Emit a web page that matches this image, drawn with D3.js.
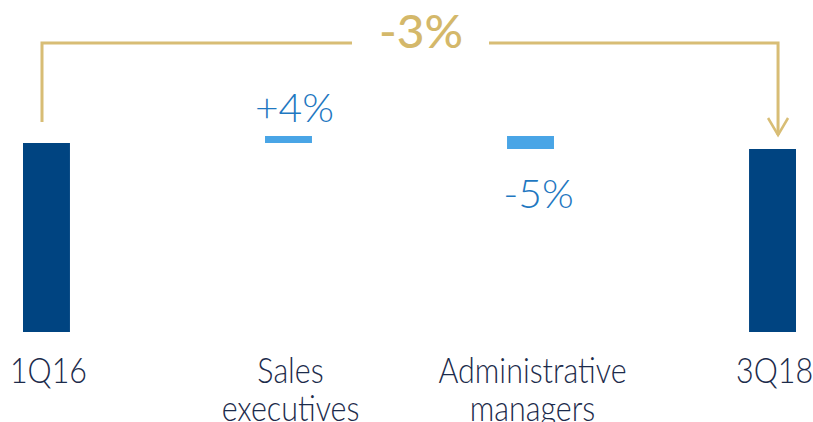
<!DOCTYPE html>
<html><head><meta charset="utf-8">
<script src="https://cdn.jsdelivr.net/npm/d3@7"></script>
<style>
html,body{margin:0;padding:0;background:#fff;}
text{font-family:"Lato Light",Lato,Roboto,sans-serif;font-weight:300;}
</style></head>
<body>
<svg id="chart" width="813" height="422"></svg>
<script>
// Data (index, 1Q16 = 100)
const categories = ["1Q16", "Sales executives", "Administrative managers", "3Q18"];
const labelLines = [["1Q16"], ["Sales", "executives"], ["Administrative", "managers"], ["3Q18"]];
const kinds = ["total", "delta", "delta", "total"];
const values = [100, 3.5, -6.5, 97];
const deltaLabels = ["", "+4%", "-5%", ""];
const totalChangeLabel = "-3%";

const svg = d3.select("#chart");
const x = d3.scaleBand().domain(categories).range([23, 796]).paddingInner(0.806).paddingOuter(0);
const y = d3.scaleLinear().domain([5.5, 100]).range([332, 143]);

let running = 0;
const segs = categories.map((c, i) => {
  let y0, y1;
  if (kinds[i] === "total") { y0 = 5.5; y1 = values[i]; running = values[i]; }
  else { y0 = running; y1 = running + values[i]; running = y1; }
  return {c, i, lo: Math.min(y0, y1), hi: Math.max(y0, y1), kind: kinds[i], v: values[i]};
});

svg.selectAll("rect.bar").data(segs).join("rect")
  .attr("class", "bar")
  .attr("x", d => x(d.c))
  .attr("width", x.bandwidth())
  .attr("y", d => y(d.hi))
  .attr("height", d => y(d.lo) - y(d.hi))
  .attr("fill", d => d.kind === "total" ? "#004481" : "#49a5e6");

svg.selectAll("text.delta").data(segs.filter(d => d.kind === "delta")).join("text")
  .attr("class", "delta")
  .attr("text-anchor", "middle")
  .attr("transform", d => {
    const cx = x(d.c) + x.bandwidth() / 2 + (d.v > 0 ? 6 : 8);
    const by = d.v > 0 ? y(d.hi) - 14 : y(d.lo) + 59;
    return `translate(${cx},${by}) scale(1.02,1)`;
  })
  .attr("font-size", 40)
  .attr("fill", "#1f78c1")
  .text(d => deltaLabels[d.i]);

categories.forEach((c, i) => {
  const cx = x(c) + x.bandwidth() / 2;
  labelLines[i].forEach((ln, j) => {
    svg.append("text")
      .attr("text-anchor", "middle")
      .attr("transform", `translate(${cx + 2},${383 + j * 38}) scale(0.87,1)`)
      .attr("font-size", 35)
      .attr("fill", "#1c2b4b")
      .text(ln);
  });
});

const xl = x(categories[0]) + 19, xr = x(categories[3]) + 29;
const gold = "#d8bd75";
const lineY = 43;
const g = svg.append("g").attr("fill", "none").attr("stroke", gold).attr("stroke-width", 3);
g.append("path").attr("d", `M${xl},122 L${xl},${lineY} L352,${lineY}`);
g.append("path").attr("d", `M489,${lineY} L${xr},${lineY} L${xr},135`);
g.append("path").attr("d", `M${xr - 10},118 L${xr},135 L${xr + 10},118`).attr("stroke-width", 2.5);
svg.append("text")
  .attr("text-anchor", "middle")
  .attr("transform", `translate(421,48) scale(1.04,1)`)
  .attr("font-size", 46)
  .attr("fill", "#d4b86a")
  .style("font-weight", 500)
  .style("font-family", "Lato,Roboto,sans-serif")
  .text(totalChangeLabel);
</script>
</body></html>
